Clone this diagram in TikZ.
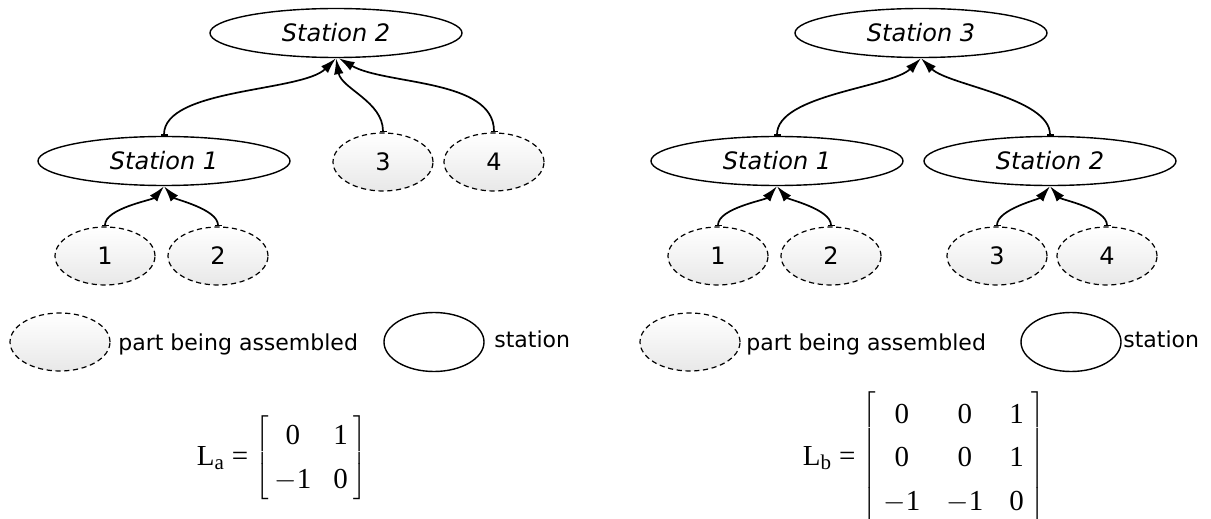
\documentclass[tikz,border=0pt]{standalone}
\usepackage{fontspec}
\setmainfont{Liberation Serif}
\newfontfamily\labelfont{DejaVu Sans}
\usetikzlibrary{arrows.meta,shapes.geometric}
\renewcommand{\arraystretch}{1.25}
\newcommand{\ent}[1]{\mbox{#1}}
\newcommand{\lname}[1]{\mbox{L}_{\mbox{\fontsize{10.5}{12}\selectfont #1}}\hspace{3.5pt}\mbox{=}\hspace{1pt}}
\tikzset{
  stationnode/.style={ellipse, draw, line width=0.7pt, minimum width=126pt,
    minimum height=24.5pt, inner sep=0pt,
    font=\labelfont\itshape\fontsize{12}{14}\selectfont},
  partnode/.style={ellipse, draw, dash pattern=on 2.6pt off 1.8pt, line width=0.6pt,
    minimum width=50pt, minimum height=29pt, inner sep=0pt,
    top color=white, bottom color=black!9,
    font=\labelfont\fontsize{12}{14}\selectfont},
  keynode/.style={ellipse, draw, line width=0.7pt, minimum width=50pt,
    minimum height=29.5pt, inner sep=0pt},
  note/.style={anchor=base west, inner sep=0pt,
    font=\labelfont\fontsize{11}{13}\selectfont},
  feed/.style={line width=0.85pt, looseness=0.65,
    arrows={Bar[width=3.5pt]-Latex[length=8pt,width=4.8pt]}},
  formula/.style={inner sep=0pt, font=\fontsize{14.5}{17.5}\selectfont}
}
\begin{document}
\begin{tikzpicture}[x=0.5pt, y=0.5pt]
  \useasboundingbox (0, 0) rectangle (1211, -519);
  % layout a
  \node[stationnode] (s2a) at (336, -33) {Station 2};
  \node[stationnode] (s1a) at (164, -161) {Station 1};
  \node[partnode] (p3a) at (383, -162) {3};
  \node[partnode] (p4a) at (494, -162) {4};
  \node[partnode] (p1a) at (105, -256) {1};
  \node[partnode] (p2a) at (218, -256) {2};
  \draw[feed] (s1a.north) to[out=90, in=-135] (s2a.south);
  \draw[feed] (p3a.north) to[out=90, in=-80, looseness=0.9] (s2a.south);
  \draw[feed] (p4a.north) to[out=90, in=-30, looseness=0.8] (s2a.-84);
  \draw[feed] (p1a.north) to[out=90, in=-130] (s1a.south);
  \draw[feed] (p2a.north) to[out=90, in=-50] (s1a.south);
  % layout b
  \node[stationnode] (s3b) at (921, -33) {Station 3};
  \node[stationnode] (s1b) at (777, -161) {Station 1};
  \node[stationnode] (s2b) at (1050, -161) {Station 2};
  \node[partnode] (p1b) at (718, -256) {1};
  \node[partnode] (p2b) at (831, -256) {2};
  \node[partnode] (p3b) at (997, -256) {3};
  \node[partnode] (p4b) at (1107, -256) {4};
  \draw[feed] (s1b.north) to[out=90, in=-135] (s3b.south);
  \draw[feed] (s2b.north) to[out=90, in=-45] (s3b.south);
  \draw[feed] (p1b.north) to[out=90, in=-130] (s1b.south);
  \draw[feed] (p2b.north) to[out=90, in=-50] (s1b.south);
  \draw[feed] (p3b.north) to[out=90, in=-130] (s2b.south);
  \draw[feed] (p4b.north) to[out=90, in=-50] (s2b.south);
  % keys
  \node[partnode] (keypa) at (60, -342) {};
  \node[note] (keytexta) at (118, -350) {part being assembled};
  \node[keynode] (keysa) at (434, -342) {};
  \node[note] (keystexta) at (494, -347) {station};
  \node[partnode] (keypb) at (690, -342) {};
  \node[note] (keytextb) at (746, -350) {part being assembled};
  \node[keynode] (keysb) at (1071, -342) {};
  \node[note] (keystextb) at (1123, -347) {station};
  % matrices
  \node[formula] (La) at (282, -458)
    {$\lname{a}\left[\begin{array}{@{\hspace{3pt}}c@{\hspace{11pt}}c@{\hspace{3pt}}}
      \ent{0} & \ent{1}\\ -\ent{1} & \ent{0} \end{array}\right]$};
  \node[formula] (Lb) at (924, -458)
    {$\lname{b}\left[\begin{array}{@{\hspace{4pt}}c@{\hspace{13pt}}c@{\hspace{13pt}}c@{\hspace{4pt}}}
      \ent{0} & \ent{0} & \ent{1}\\ \ent{0} & \ent{0} & \ent{1}\\
      -\ent{1} & -\ent{1} & \ent{0} \end{array}\right]$};
\end{tikzpicture}
\end{document}
